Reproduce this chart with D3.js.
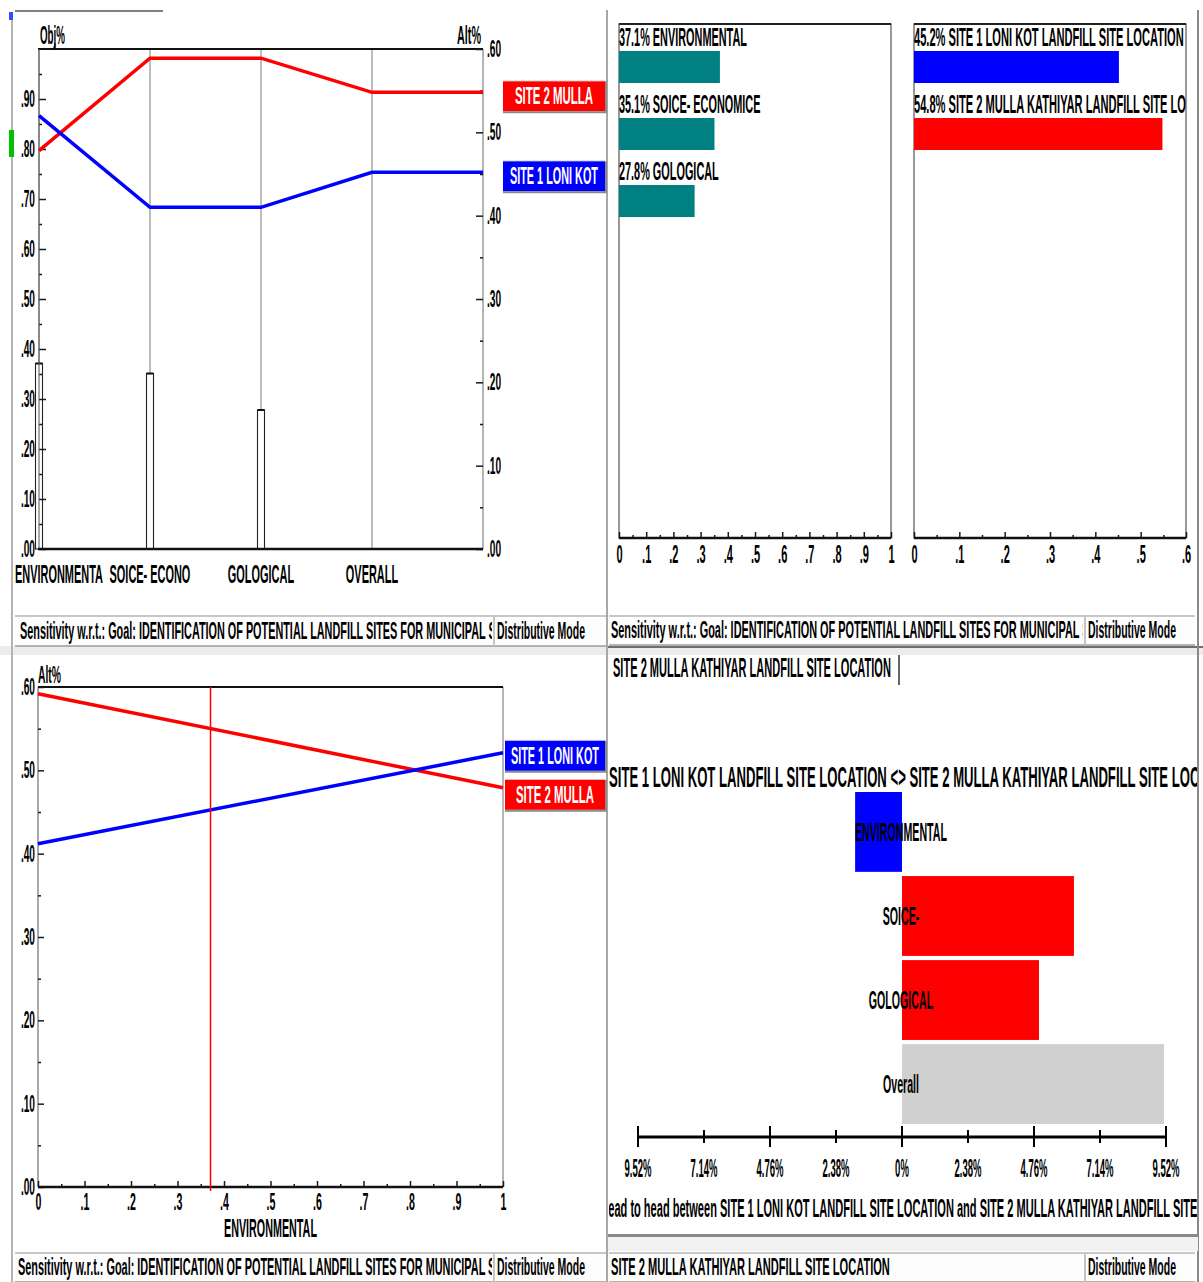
<!DOCTYPE html>
<html><head><meta charset="utf-8">
<script src="https://cdn.jsdelivr.net/npm/d3@7"></script>
<style>html,body{margin:0;padding:0;background:#fff;overflow:hidden}</style>
</head><body>
<script>
// ================= DATA =================
const criteria = ["ENVIRONMENTAL", "SOICE- ECONOMICE", "GOLOGICAL"];
const perfAxisLabels = ["ENVIRONMENTA", "SOICE- ECONO", "GOLOGICAL", "OVERALL"];
const criteriaWeights = [0.371, 0.351, 0.278];
const alternatives = ["SITE 1 LONI KOT LANDFILL SITE LOCATION", "SITE 2 MULLA KATHIYAR LANDFILL SITE LOCATION"];
const altShort = ["SITE 1 LONI KOT", "SITE 2 MULLA"];
const altOverall = [0.452, 0.548];
const perfSite1 = [0.520, 0.410, 0.410, 0.452];
const perfSite2 = [0.478, 0.589, 0.589, 0.548];
const gradX = [0, 1];
const gradSite1 = [0.412, 0.521];
const gradSite2 = [0.592, 0.479];
const gradCurrent = 0.371;
const gradCriterion = "ENVIRONMENTAL";
const h2hLabels = ["ENVIRONMENTAL", "SOICE-", "GOLOGICAL", "Overall"];
const h2hValues = [-1.69, 6.20, 4.94, 9.45];
const h2hTicks = [-9.52, -7.14, -4.76, -2.38, 0, 2.38, 4.76, 7.14, 9.52];
const objTicks = [0, .1, .2, .3, .4, .5, .6, .7, .8, .9];
const objMinor = [.05, .15, .25, .35, .45, .55, .65, .75, .85, .95];
const altTicks = [0, .1, .2, .3, .4, .5, .6];
const altMinor = [.05, .15, .25, .35, .45, .55];
const unitTicks = [0, .1, .2, .3, .4, .5, .6, .7, .8, .9, 1];
const unitMinor = [.05, .15, .25, .35, .45, .55, .65, .75, .85, .95];
const goalText = "Sensitivity w.r.t.: Goal: IDENTIFICATION OF POTENTIAL LANDFILL SITES FOR MUNICIPAL S";
const goalFit = "Sensitivity w.r.t.: Goal: IDENTIFICATION OF POTENTIAL LANDFILL SITES FOR MUNICIPAL";
const modeText = "Distributive Mode";
const siteColors = ["#0000ff", "#ff0000"];

// ================= SETUP =================
const W = 1203, H = 1282;
const FONT = '"Liberation Sans Narrow","Arial Narrow","Liberation Sans",Arial,sans-serif';
const WEIGHT = "bold";
const svg = d3.select("body").append("svg").attr("width", W).attr("height", H).style("display", "block");
svg.append("rect").attr("width", W).attr("height", H).attr("fill", "#fff");
const defs = svg.append("defs");

function measure(s, size) {
  const t = svg.append("text").attr("font-family", FONT).attr("font-weight", WEIGHT).attr("font-size", size).style("white-space", "pre").text(s);
  const l = t.node().getComputedTextLength(); t.remove(); return l;
}
const SX = 89 / measure(modeText, 24);

function txt(parent, x, y, s, o = {}) {
  const size = o.size || 22;
  const t = parent.append("text").attr("font-family", FONT).attr("font-weight", WEIGHT).attr("font-size", size)
    .attr("fill", o.fill || "#000").style("white-space", "pre").text(s);
  const len = t.node().getComputedTextLength();
  let sx = o.sx || SX, tx;
  if (o.fit) {
    const [sub, w, at] = o.fit;
    sx = w / measure(sub, size);
    const idx = s.indexOf(sub);
    tx = at - sx * (idx > 0 ? measure(s.slice(0, idx), size) : 0);
  } else {
    if (o.w) sx = o.w / len;
    const a = o.anchor || "start";
    tx = a === "start" ? x : a === "middle" ? x - len * sx / 2 : x - len * sx;
  }
  t.attr("transform", `translate(${tx},${y}) scale(${sx},1)`);
  return t;
}
function clip(id, x, y, w, h) {
  defs.append("clipPath").attr("id", id).append("rect").attr("x", x).attr("y", y).attr("width", w).attr("height", h);
  return `url(#${id})`;
}
function styleAxis(g, size, sx) {
  const s = sx || SX;
  g.attr("font-family", null).attr("font-size", null);
  g.select(".domain").remove();
  g.selectAll(".tick line").attr("stroke", "#1a1a1a").attr("stroke-width", 1.5);
  g.selectAll(".tick text").attr("font-family", FONT).attr("font-weight", WEIGHT).attr("font-size", size).attr("fill", "#000")
    .each(function () {
      const x = +(this.getAttribute("x") || 0);
      d3.select(this).attr("x", x / s).attr("transform", `scale(${s},1)`);
    });
}
const fmt2 = d => d3.format(".2f")(d).replace(/^0/, "");
const fmt1 = d => (d === 0 ? "0" : d === 1 ? "1" : d3.format(".1f")(d).replace(/^0/, ""));
const pct = d3.format(".1%");

function altBoxes(parent, x, w, h, items) {
  items.sort((a, b) => a.y - b.y);
  for (let i = 1; i < items.length; i++) if (items[i].y - items[i - 1].y < h + 9) items[i].y = items[i - 1].y + h + 9;
  items.forEach(it => {
    const y0 = it.y - h / 2;
    parent.append("rect").attr("x", x).attr("y", y0 - 1).attr("width", w).attr("height", 1).attr("fill", "#d8d8d8");
    parent.append("rect").attr("x", x).attr("y", y0).attr("width", w).attr("height", h).attr("fill", it.color);
    parent.append("path").attr("d", `M${x},${y0 + h + 1}H${x + w + 1}V${y0}`).attr("fill", "none")
      .attr("stroke", "#8a8a8a").attr("stroke-width", 2);
    txt(parent, x + w / 2, it.y + 8, it.label, { anchor: "middle", fill: "#fff", size: 24, w: it.tw });
  });
}

function statusBar(x0, x1, y0, y1, divX, t1, fit1, id) {
  const g = svg.append("g");
  g.append("rect").attr("x", x0).attr("y", y0).attr("width", x1 - x0).attr("height", y1 - y0).attr("fill", "#fdfdfd");
  g.append("line").attr("x1", x0).attr("x2", x1).attr("y1", y0 + 1).attr("y2", y0 + 1).attr("stroke", "#c8c8c8").attr("stroke-width", 2);
  g.append("line").attr("x1", x0).attr("x2", x1).attr("y1", y1).attr("y2", y1).attr("stroke", "#9a9a9a").attr("stroke-width", 1.5);
  g.append("line").attr("x1", divX).attr("x2", divX).attr("y1", y0 + 2).attr("y2", y1).attr("stroke", "#c4c4c4").attr("stroke-width", 2);
  const c = g.append("g").attr("clip-path", clip(id, x0, y0, divX - x0 - 2, y1 - y0));
  txt(c, x0 + 5, y1 - 7, t1, { size: 24, fit: fit1 });
  txt(g, divX + 3, y1 - 7, modeText, { size: 24, w: 88 });
}

// ================= FRAME =================
svg.append("rect").attr("x", 0).attr("y", 646).attr("width", W).attr("height", 9).attr("fill", "#ececec");
svg.append("line").attr("x1", 606).attr("x2", W).attr("y1", 647).attr("y2", 647).attr("stroke", "#6e6e6e").attr("stroke-width", 2);
svg.append("line").attr("x1", 12).attr("x2", 12).attr("y1", 12).attr("y2", H).attr("stroke", "#b4b4b4").attr("stroke-width", 2);
svg.append("line").attr("x1", 607).attr("x2", 607).attr("y1", 10).attr("y2", H).attr("stroke", "#a8a8a8").attr("stroke-width", 2);
svg.append("line").attr("x1", 1198).attr("x2", 1198).attr("y1", 10).attr("y2", H).attr("stroke", "#8a8a8a").attr("stroke-width", 2);
svg.append("line").attr("x1", 15).attr("x2", 163).attr("y1", 11).attr("y2", 11).attr("stroke", "#555").attr("stroke-width", 1.5);
svg.append("rect").attr("x", 9).attr("y", 12).attr("width", 4).attr("height", 8).attr("fill", "#3050ff");
svg.append("rect").attr("x", 9).attr("y", 130).attr("width", 5).attr("height", 27).attr("fill", "#00c000");

// ================= PANEL 1: performance sensitivity =================
const P1 = { l: 39, r: 483, t: 49, b: 549 };
const g1 = svg.append("g");
const yObj = d3.scaleLinear().domain([0, 1]).range([P1.b, P1.t]);
const yAlt1 = d3.scaleLinear().domain([0, 0.6]).range([P1.b, P1.t]);
const xCrit = d3.scalePoint().domain(perfAxisLabels).range([P1.l, 372]);

perfAxisLabels.forEach(c => g1.append("line").attr("x1", xCrit(c)).attr("x2", xCrit(c)).attr("y1", P1.t).attr("y2", P1.b)
  .attr("stroke", "#7a7a7a").attr("stroke-width", 1));
g1.append("line").attr("x1", P1.r).attr("x2", P1.r).attr("y1", P1.t).attr("y2", P1.b).attr("stroke", "#6a6a6a");
g1.append("line").attr("x1", P1.l - 1).attr("x2", P1.r).attr("y1", P1.t).attr("y2", P1.t).attr("stroke", "#111").attr("stroke-width", 2);
g1.append("line").attr("x1", 55).attr("x2", 55).attr("y1", P1.t - 6).attr("y2", P1.t).attr("stroke", "#111").attr("stroke-width", 1.2);

// weight bars
criteriaWeights.forEach((w, i) => {
  const x = xCrit(perfAxisLabels[i]);
  g1.append("rect").attr("x", x - 3.5).attr("y", yObj(w)).attr("width", 7).attr("height", P1.b - yObj(w))
    .attr("fill", "#fff").attr("stroke", "#222").attr("stroke-width", 1.1);
  g1.append("line").attr("x1", x - 3.5).attr("x2", x + 3.5).attr("y1", yObj(w)).attr("y2", yObj(w)).attr("stroke", "#111").attr("stroke-width", 2);
});

// axes
g1.append("g").attr("transform", `translate(${P1.l},0)`)
  .call(d3.axisLeft(yObj).tickValues(objTicks).tickSizeInner(-7).tickSizeOuter(0).tickPadding(4).tickFormat(fmt2))
  .call(styleAxis, 23);
g1.append("g").attr("transform", `translate(${P1.l},0)`)
  .call(d3.axisLeft(yObj).tickValues(objMinor).tickSizeInner(-3).tickSizeOuter(0).tickFormat(""))
  .call(styleAxis, 23);
g1.append("line").attr("x1", P1.l).attr("x2", P1.l).attr("y1", P1.t).attr("y2", P1.b).attr("stroke", "#555");
g1.append("g").attr("transform", `translate(${P1.r},0)`)
  .call(d3.axisRight(yAlt1).tickValues(altTicks).tickSizeInner(-7).tickSizeOuter(0).tickPadding(4).tickFormat(fmt2))
  .call(styleAxis, 23);
g1.append("g").attr("transform", `translate(${P1.r},0)`)
  .call(d3.axisRight(yAlt1).tickValues(altMinor).tickSizeInner(-3).tickSizeOuter(0).tickFormat(""))
  .call(styleAxis, 23);
g1.append("line").attr("x1", P1.l - 1).attr("x2", P1.r).attr("y1", P1.b).attr("y2", P1.b).attr("stroke", "#111").attr("stroke-width", 2.5);

// lines
const line1 = d3.line().x(d => d[0]).y(d => yAlt1(d[1]));
[perfSite2, perfSite1].forEach((vals, k) => {
  const pts = vals.map((v, j) => [xCrit(perfAxisLabels[j]), v]);
  pts.push([P1.r, vals[vals.length - 1]]);
  g1.append("path").attr("d", line1(pts)).attr("fill", "none")
    .attr("stroke", k === 0 ? siteColors[1] : siteColors[0]).attr("stroke-width", 3.5);
});

txt(g1, 40, 44, "Obj%", { size: 25, w: 25 });
txt(g1, 457, 44, "Alt%", { size: 25, w: 24 });
const sxX1 = 88 / measure(perfAxisLabels[0], 25);
perfAxisLabels.forEach((c, i) => {
  if (i === 0) txt(g1, 15, 583, c, { size: 25, sx: sxX1 });
  else txt(g1, xCrit(c), 583, c, { size: 25, sx: sxX1, anchor: "middle" });
});
altBoxes(g1, 503, 102, 30, [
  { y: yAlt1(altOverall[1]) + 4, color: siteColors[1], label: altShort[1], tw: 78 },
  { y: yAlt1(altOverall[0]) + 4, color: siteColors[0], label: altShort[0], tw: 88 }
]);
statusBar(15, 606, 615, 646, 494, goalText, [goalFit, 466, 20], "c1");

// ================= PANEL 2: dynamic sensitivity =================
const g2 = svg.append("g");
const P2a = { l: 619, r: 891, t: 24, b: 538 };
const P2b = { l: 914, r: 1186, t: 24, b: 538 };
const xW = d3.scaleLinear().domain([0, 1]).range([P2a.l, P2a.r]);
const xA = d3.scaleLinear().domain([0, 0.6]).range([P2b.l, P2b.r]);
const yW = d3.scaleBand().domain(criteria).range([29, 230]);
const yA = d3.scaleBand().domain(alternatives).range([29, 163]);
[P2a, P2b].forEach(P => {
  g2.append("rect").attr("x", P.l).attr("y", P.t).attr("width", P.r - P.l).attr("height", P.b - P.t)
    .attr("fill", "#fff").attr("stroke", "#555").attr("stroke-width", 1.2);
  g2.append("line").attr("x1", P.l).attr("x2", P.r).attr("y1", P.t).attr("y2", P.t).attr("stroke", "#222").attr("stroke-width", 2);
});
const sxP2 = 128 / measure(pct(criteriaWeights[0]) + " " + criteria[0], 26);
criteria.forEach((c, i) => {
  g2.append("rect").attr("x", xW(0)).attr("y", yW(c) + 22).attr("width", xW(criteriaWeights[i]) - xW(0)).attr("height", 32).attr("fill", "#008080");
  txt(g2, P2a.l, yW(c) + 17, pct(criteriaWeights[i]) + " " + c, { size: 26, sx: sxP2 });
});
const g2b = g2.append("g").attr("clip-path", clip("c2b", P2b.l, 0, P2b.r - P2b.l, 600));
alternatives.forEach((a, i) => {
  g2b.append("rect").attr("x", xA(0)).attr("y", yA(a) + 22).attr("width", xA(altOverall[i]) - xA(0)).attr("height", 32).attr("fill", siteColors[i]);
  txt(g2b, P2b.l, yA(a) + 17, pct(altOverall[i]) + " " + a, { size: 26, sx: sxP2 * 1.02 });
});
g2.append("g").attr("transform", `translate(0,${P2a.b})`)
  .call(d3.axisBottom(xW).tickValues(unitTicks).tickSizeInner(-6).tickSizeOuter(0).tickPadding(7).tickFormat(fmt1))
  .call(styleAxis, 25);
g2.append("g").attr("transform", `translate(0,${P2a.b})`)
  .call(d3.axisBottom(xW).tickValues(unitMinor).tickSizeInner(-3).tickSizeOuter(0).tickFormat(""))
  .call(styleAxis, 25);
g2.append("g").attr("transform", `translate(0,${P2b.b})`)
  .call(d3.axisBottom(xA).tickValues(altTicks).tickSizeInner(-6).tickSizeOuter(0).tickPadding(7).tickFormat(fmt1))
  .call(styleAxis, 25);
g2.append("g").attr("transform", `translate(0,${P2b.b})`)
  .call(d3.axisBottom(xA).tickValues(altMinor).tickSizeInner(-3).tickSizeOuter(0).tickFormat(""))
  .call(styleAxis, 25);
[P2a, P2b].forEach(P => g2.append("line").attr("x1", P.l).attr("x2", P.r).attr("y1", P.b).attr("y2", P.b).attr("stroke", "#111").attr("stroke-width", 2.5));
statusBar(609, 1195, 615, 645, 1085, goalText, [goalFit, 469, 611], "c2");

// ================= PANEL 3: gradient sensitivity =================
const g3 = svg.append("g");
const P3 = { l: 38, r: 503, t: 687, b: 1187 };
const xG = d3.scaleLinear().domain([0, 1]).range([P3.l, P3.r]);
const yG = d3.scaleLinear().domain([0, 0.6]).range([P3.b, P3.t]);
g3.append("line").attr("x1", P3.r).attr("x2", P3.r).attr("y1", P3.t).attr("y2", P3.b).attr("stroke", "#6a6a6a");
g3.append("line").attr("x1", P3.l).attr("x2", P3.l).attr("y1", P3.t).attr("y2", P3.b).attr("stroke", "#555");
g3.append("line").attr("x1", P3.l).attr("x2", P3.r).attr("y1", P3.t).attr("y2", P3.t).attr("stroke", "#111").attr("stroke-width", 2);
g3.append("g").attr("transform", `translate(${P3.l},0)`)
  .call(d3.axisLeft(yG).tickValues(altTicks).tickSizeInner(-6).tickSizeOuter(0).tickPadding(3).tickFormat(fmt2))
  .call(styleAxis, 23);
g3.append("g").attr("transform", `translate(${P3.l},0)`)
  .call(d3.axisLeft(yG).tickValues(altMinor).tickSizeInner(-3).tickSizeOuter(0).tickFormat(""))
  .call(styleAxis, 23);
g3.append("g").attr("transform", `translate(0,${P3.b})`)
  .call(d3.axisBottom(xG).tickValues(unitTicks).tickSizeInner(-6).tickSizeOuter(0).tickPadding(6).tickFormat(fmt1))
  .call(styleAxis, 24);
g3.append("g").attr("transform", `translate(0,${P3.b})`)
  .call(d3.axisBottom(xG).tickValues(unitMinor).tickSizeInner(-3).tickSizeOuter(0).tickFormat(""))
  .call(styleAxis, 24);
g3.append("line").attr("x1", P3.l).attr("x2", P3.r).attr("y1", P3.b).attr("y2", P3.b).attr("stroke", "#111").attr("stroke-width", 2.5);
const lineG = d3.line().x((d, i) => xG(gradX[i])).y(d => yG(d));
g3.append("path").attr("d", lineG(gradSite2)).attr("fill", "none").attr("stroke", siteColors[1]).attr("stroke-width", 3.5);
g3.append("path").attr("d", lineG(gradSite1)).attr("fill", "none").attr("stroke", siteColors[0]).attr("stroke-width", 3.5);
g3.append("line").attr("x1", xG(gradCurrent)).attr("x2", xG(gradCurrent)).attr("y1", P3.t).attr("y2", P3.b + 4)
  .attr("stroke", "#ff0000").attr("stroke-width", 1.5);
txt(g3, 38, 683, "Alt%", { size: 24, w: 23 });
txt(g3, xG(0.5), 1237, gradCriterion, { size: 25, anchor: "middle", w: 93 });
altBoxes(g3, 505, 100, 30, [
  { y: yG(gradSite1[1]) + 3, color: siteColors[0], label: altShort[0], tw: 88 },
  { y: yG(gradSite2[1]) + 3, color: siteColors[1], label: altShort[1], tw: 78 }
]);
statusBar(15, 606, 1252, 1282, 494, goalText, [goalFit, 468, 18], "c3");

// ================= PANEL 4: head to head =================
const g4o = svg.append("g");
const g4 = g4o.append("g").attr("clip-path", clip("c4", 609, 650, 588, 600));
const xH = d3.scaleLinear().domain([-9.52, 9.52]).range([638, 1166]);
const yH = d3.scaleBand().domain(h2hLabels).range([792, 1124]).paddingInner(0.05);
txt(g4, 613, 677, alternatives[1], { size: 27, w: 278 });
g4.append("line").attr("x1", 899).attr("x2", 899).attr("y1", 655).attr("y2", 685).attr("stroke", "#333").attr("stroke-width", 1.5);
const title = alternatives[0] + " <> " + alternatives[1];
txt(g4, 609, 787, title, { size: 30, fit: [alternatives[0], 278, 609] });
h2hLabels.forEach((c, i) => {
  const v = h2hValues[i];
  const col = i === h2hLabels.length - 1 ? "#d0d0d0" : (v < 0 ? siteColors[0] : siteColors[1]);
  g4.append("rect").attr("x", xH(Math.min(0, v))).attr("y", yH(c)).attr("width", Math.abs(xH(v) - xH(0)))
    .attr("height", yH.bandwidth()).attr("fill", col);
});
const sxH = 92 / measure(h2hLabels[0], 25);
h2hLabels.forEach(c => txt(g4, xH(0) - 1, yH(c) + yH.bandwidth() / 2 + 9, c, { size: 25, sx: sxH, anchor: "middle" }));
const axY = 1137;
g4.append("line").attr("x1", xH(h2hTicks[0])).attr("x2", xH(h2hTicks[h2hTicks.length - 1])).attr("y1", axY).attr("y2", axY)
  .attr("stroke", "#000").attr("stroke-width", 3);
g4.selectAll(".h2ht").data(h2hTicks).join("line")
  .attr("x1", d => xH(d)).attr("x2", d => xH(d))
  .attr("y1", (d, i) => axY - (i % 2 === 0 ? 11 : 7)).attr("y2", (d, i) => axY + (i % 2 === 0 ? 10 : 6))
  .attr("stroke", "#000").attr("stroke-width", 2);
const sxT = 27 / measure("9.52%", 26);
h2hTicks.forEach(d => txt(g4, xH(d), 1177, Math.abs(d) === 0 ? "0%" : Math.abs(d).toFixed(2) + "%", { size: 26, sx: sxT, anchor: "middle" }));
const caption = "Head to head between " + alternatives[0] + " and " + alternatives[1];
txt(g4, 609, 1217, caption, { size: 26, fit: [alternatives[0], 234, 720] });
g4o.append("rect").attr("x", 608).attr("y", 1234).attr("width", 590).attr("height", 3).attr("fill", "#8a8a8a");
g4o.append("rect").attr("x", 608).attr("y", 1237).attr("width", 590).attr("height", 14).attr("fill", "#f2f2f2");
statusBar(609, 1195, 1252, 1282, 1085, alternatives[1], [alternatives[1], 279, 611], "c4s");
</script>
</body></html>
